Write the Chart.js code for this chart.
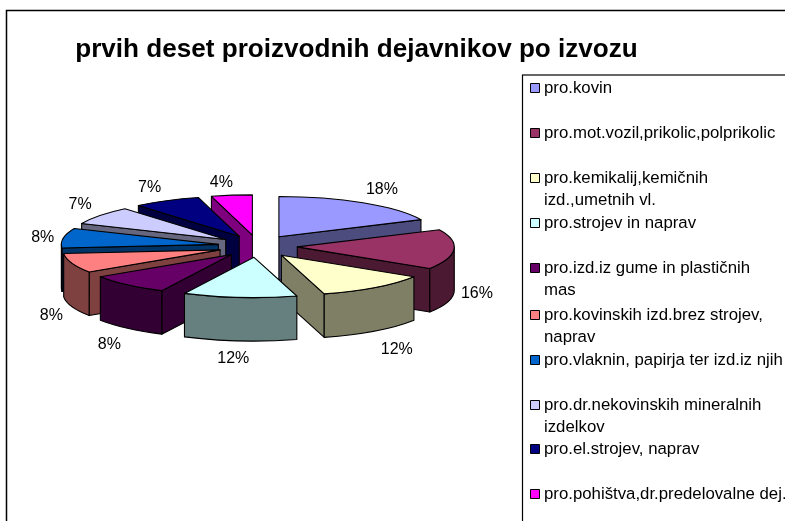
<!DOCTYPE html>
<html><head><meta charset="utf-8">
<script src="https://cdn.jsdelivr.net/npm/chart.js@4"></script>
<style>html,body{margin:0;padding:0;background:#fff;overflow:hidden}canvas{display:block}</style>
</head><body><canvas id="c" width="785" height="521"></canvas>
<script>
const titleText = 'prvih deset proizvodnih dejavnikov po izvozu';
const categories = ['pro.kovin','pro.mot.vozil,prikolic,polprikolic','pro.kemikalij,kemičnih izd.,umetnih vl.','pro.strojev in naprav','pro.izd.iz gume in plastičnih mas','pro.kovinskih izd.brez strojev, naprav','pro.vlaknin, papirja ter izd.iz njih','pro.dr.nekovinskih mineralnih izdelkov','pro.el.strojev, naprav','pro.pohištva,dr.predelovalne dej.'];
const values = [18,16,11.6,11.7,8.4,7.9,7.9,7.4,6.9,4.2];
const colors = ['#9999FF','#993366','#FFFFCC','#CCFFFF','#660066','#FF8080','#0066CC','#CCCCFF','#000080','#FF00FF'];
const legendLines = [['pro.kovin'],['pro.mot.vozil,prikolic,polprikolic'],['pro.kemikalij,kemičnih','izd.,umetnih vl.'],['pro.strojev in naprav'],['pro.izd.iz gume in plastičnih','mas'],['pro.kovinskih izd.brez strojev,','naprav'],['pro.vlaknin, papirja ter izd.iz njih'],['pro.dr.nekovinskih mineralnih','izdelkov'],['pro.el.strojev, naprav'],['pro.pohištva,dr.predelovalne dej.']];
const legendRowY = [88,133,178,223,268,315,360,405,449,494];
const drawOrder = [0,9,8,7,6,5,4,1,2,3];
const labelNudge = [[5,-1],[-3,41],[6,16],[-4,4],[-1,17],[4,33],[5,2],[1,-3],[-5,-1],[-7,1]];

const TILT = 0.256, OFFSET_TILT = 0.282, DEPTH = 43.5, PIE_X = 257.6, PIE_Y = 246.2;
const half = h => '#' + [1,3,5].map(i => Math.floor(parseInt(h.substr(i,2),16)/2).toString(16).padStart(2,'0')).join('');

const pie3d = {
  id:'pie3d',
  beforeDraw(chart){
    const c = chart.ctx; c.save();
    c.fillStyle='#fff'; c.fillRect(0,0,chart.width,chart.height);
    c.strokeStyle='#000'; c.lineWidth=1.5;
    c.strokeRect(6.5,10.5,900,700);
    c.lineWidth=1.2; c.strokeRect(522.5,75,400,600);
    c.restore();
  },
  beforeDatasetsDraw(chart){
    const c = chart.ctx, meta = chart.getDatasetMeta(0);
    const geom = arc => {
      const mid=(arc.startAngle+arc.endAngle)/2, off=arc.options.offset/4;
      return {a:arc.startAngle,b:arc.endAngle,r:arc.outerRadius,
        x:PIE_X+Math.cos(mid)*off, y:PIE_Y+Math.sin(mid)*off*OFFSET_TILT};
    };
    c.save(); c.lineJoin='round'; c.strokeStyle='#000'; c.lineWidth=1.1;
    const paint = fill => { c.fillStyle=fill; c.fill(); c.stroke(); };
    for(const i of drawOrder){
      const arc = meta.data[i], g = geom(arc), side = half(colors[i]);
      const px = t => g.x+Math.cos(t)*g.r, py = t => g.y+Math.sin(t)*g.r*TILT;
      const radial = t => { c.beginPath(); c.moveTo(g.x,g.y); c.lineTo(px(t),py(t)); c.lineTo(px(t),py(t)+DEPTH); c.lineTo(g.x,g.y+DEPTH); c.closePath(); paint(side); };
      if(Math.cos(g.a)<0) radial(g.a);
      if(Math.cos(g.b)>0) radial(g.b);
      const w0=Math.max(g.a,0), w1=Math.min(g.b,Math.PI);
      if(w1>w0){
        c.beginPath();
        c.ellipse(g.x,g.y,g.r,g.r*TILT,0,w0,w1);
        c.lineTo(px(w1),py(w1)+DEPTH);
        c.ellipse(g.x,g.y+DEPTH,g.r,g.r*TILT,0,w1,w0,true);
        c.closePath(); paint(side);
      }
      // top face is drawn by the library's arc element under a tilted transform
      const saved = arc.options;
      arc.options = Object.assign({}, saved, {offset:0});
      c.save();
      c.translate(g.x-arc.x,g.y); c.scale(1,TILT); c.translate(0,-arc.y);
      arc.draw(c);
      c.restore();
      arc.options = saved;
      c.beginPath(); c.moveTo(g.x,g.y); c.ellipse(g.x,g.y,g.r,g.r*TILT,0,g.a,g.b); c.closePath(); c.stroke();
    }
    // percentage labels
    const total = values.reduce((s,v)=>s+v,0);
    c.fillStyle='#000'; c.font='16px "Liberation Sans"'; c.textAlign='center'; c.textBaseline='middle';
    meta.data.forEach((arc,i)=>{
      const g=geom(arc), mid=(g.a+g.b)/2, s=Math.sin(mid);
      const lx=g.x+Math.cos(mid)*(g.r+26), ly=g.y+s*(g.r*TILT+14)+(s>0?DEPTH*s:0);
      c.fillText(Math.round(values[i]/total*100)+'%',lx+labelNudge[i][0],ly+labelNudge[i][1]);
    });
    // legend
    c.textAlign='left'; c.font='16.8px "Liberation Sans"';
    legendLines.forEach((lines,i)=>{
      const y=legendRowY[i];
      c.fillStyle=colors[i]; c.fillRect(530.5,y-4.5,9,9);
      c.lineWidth=1; c.strokeRect(530.5,y-4.5,9,9);
      c.fillStyle='#000';
      lines.forEach((t,j)=>c.fillText(t,544,y+j*22));
    });
    c.restore();
    return false;
  }
};

new Chart(document.getElementById('c'),{
  type:'pie',
  data:{labels:categories,datasets:[{data:values,backgroundColor:colors,borderWidth:0,offset:159}]},
  options:{
    responsive:false,animation:false,radius:157,
    layout:{padding:{right:72,top:34}},
    plugins:{
      legend:{display:false},tooltip:{enabled:false},
      title:{display:true,text:titleText,color:'#000',font:{family:'"Liberation Sans"',size:26.1,weight:'bold'},padding:{top:0,bottom:0}}
    }
  },
  plugins:[pie3d]
});
</script></body></html>
